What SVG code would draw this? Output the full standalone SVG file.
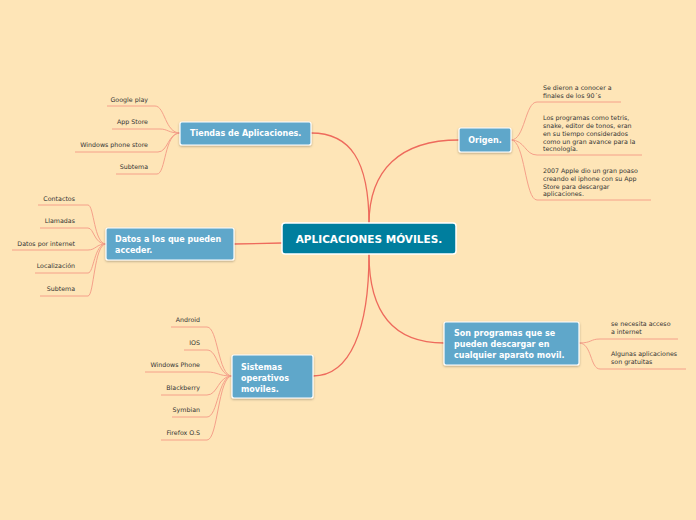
<svg xmlns="http://www.w3.org/2000/svg" width="696" height="520" viewBox="0 0 696 520">
<style>
.bg{fill:#FEE5B7}
.main{fill:none;stroke:#EE6A5C;stroke-width:1.3}
.leaf{fill:none;stroke:#F5A08A;stroke-width:1}
.box{fill:#5FA7CA;stroke:#fff;stroke-width:1.2}
.cbox{fill:#007E9E;stroke:#fff;stroke-width:1.5}
.bt{font-family:"DejaVu Sans",Verdana,sans-serif;font-weight:bold;font-size:8px;fill:#fff}
.ct{font-family:"DejaVu Sans",Verdana,sans-serif;font-weight:bold;font-size:10.5px;fill:#fff}
.lt{font-family:"DejaVu Sans",Verdana,sans-serif;font-size:6.3px;fill:#333}
.r{text-anchor:end}
</style>
<defs>
<filter id="sh" x="-10%" y="-10%" width="120%" height="140%"><feDropShadow dx="0" dy="1" stdDeviation="0.8" flood-color="#000" flood-opacity="0.3"/></filter>
</defs>
<rect class="bg" width="696" height="520"/>
<g id="connectors">
<path class="main" d="M369,224 C369,160 350,133 311,133"/>
<path class="main" d="M369,224 C369,170 400,140 459,140"/>
<path class="main" d="M282,243 L234,244"/>
<path class="main" d="M369,254 C369,330 350,376 313,376"/>
<path class="main" d="M369,254 C369,320 400,343 444,343"/>
<path class="leaf" d="M180,133 C165,133 165,106 155,106 L107,106"/>
<path class="leaf" d="M180,133 C168,133 168,129 160,129 L112,129"/>
<path class="leaf" d="M180,133 C168,133 168,152 158,152 L75,152"/>
<path class="leaf" d="M180,133 C164,133 166,174 157,174 L116,174"/>
<path class="leaf" d="M106,244 C94,244 94,205 88,205 L38,205"/>
<path class="leaf" d="M106,244 C94,244 94,228 88,228 L40,228"/>
<path class="leaf" d="M106,244 C96,244 96,250 88,250 L12,250"/>
<path class="leaf" d="M106,244 C94,244 94,273 88,273 L35,273"/>
<path class="leaf" d="M106,244 C94,244 94,296 88,296 L40,296"/>
<path class="leaf" d="M232,376 C218,376 218,327 207,327 L171,327"/>
<path class="leaf" d="M232,376 C218,376 218,350 207,350 L184,350"/>
<path class="leaf" d="M232,376 C218,376 218,372 207,372 L145,372"/>
<path class="leaf" d="M232,376 C218,376 218,395 207,395 L161,395"/>
<path class="leaf" d="M232,376 C218,376 218,417 207,417 L172,417"/>
<path class="leaf" d="M232,376 C218,376 218,440 207,440 L161,440"/>
<path class="leaf" d="M511,140 C525,140 525,102 537,102 L621,102"/>
<path class="leaf" d="M511,140 C525,140 525,155 537,155 L642,155"/>
<path class="leaf" d="M511,140 C525,140 525,200 537,200 L651,200"/>
<path class="leaf" d="M579,343 C592,343 590,339 600,339 L678,339"/>
<path class="leaf" d="M579,343 C592,343 590,369 600,369 L686,369"/>
</g>
<g id="central">
<rect class="cbox" x="282" y="223" width="174" height="31" rx="3"/>
<text class="ct" x="369" y="243" text-anchor="middle">APLICACIONES MÓVILES.</text>
</g>
<g id="tiendas">
<rect class="box" x="180" y="122" width="131" height="23" rx="2" filter="url(#sh)"/>
<text class="bt" x="190" y="136">Tiendas de Aplicaciones.</text>
</g>
<g id="datos">
<rect class="box" x="106" y="228" width="128" height="32" rx="2" filter="url(#sh)"/>
<text class="bt" x="115" y="242">Datos a los que pueden</text>
<text class="bt" x="115" y="253">acceder.</text>
</g>
<g id="sistemas">
<rect class="box" x="232" y="355" width="81" height="43" rx="2" filter="url(#sh)"/>
<text class="bt" x="241" y="370">Sistemas</text>
<text class="bt" x="241" y="381">operativos</text>
<text class="bt" x="241" y="392">moviles.</text>
</g>
<g id="origen">
<rect class="box" x="459" y="128" width="52" height="24" rx="2" filter="url(#sh)"/>
<text class="bt" x="485" y="143" text-anchor="middle">Origen.</text>
</g>
<g id="son-programas">
<rect class="box" x="444" y="322" width="135" height="43" rx="2" filter="url(#sh)"/>
<text class="bt" x="454" y="336">Son programas que se</text>
<text class="bt" x="454" y="347">pueden descargar en</text>
<text class="bt" x="454" y="358">cualquier aparato movil.</text>
</g>
<g id="tiendas-leaves">
<text class="lt r" x="148" y="102">Google play</text>
<text class="lt r" x="148" y="124">App Store</text>
<text class="lt r" x="148" y="147">Windows phone store</text>
<text class="lt r" x="148" y="169">Subtema</text>
</g>
<g id="datos-leaves">
<text class="lt r" x="75" y="201">Contactos</text>
<text class="lt r" x="75" y="223">Llamadas</text>
<text class="lt r" x="75" y="246">Datos por internet</text>
<text class="lt r" x="75" y="268">Localización</text>
<text class="lt r" x="75" y="291">Subtema</text>
</g>
<g id="sistemas-leaves">
<text class="lt r" x="200" y="322">Android</text>
<text class="lt r" x="200" y="345">IOS</text>
<text class="lt r" x="200" y="367">Windows Phone</text>
<text class="lt r" x="200" y="390">Blackberry</text>
<text class="lt r" x="200" y="412">Symbian</text>
<text class="lt r" x="200" y="435">Firefox O.S</text>
</g>
<g id="origen-leaves">
<text class="lt" x="543" y="90">Se dieron a conocer a</text>
<text class="lt" x="543" y="98">finales de los 90´s</text>
<text class="lt" x="543" y="120">Los programas como tetris,</text>
<text class="lt" x="543" y="128">snake, editor de tonos, eran</text>
<text class="lt" x="543" y="136">en su tiempo considerados</text>
<text class="lt" x="543" y="144">como un gran avance para la</text>
<text class="lt" x="543" y="151">tecnología.</text>
<text class="lt" x="543" y="173">2007 Apple dio un gran poaso</text>
<text class="lt" x="543" y="181">creando el iphone con su App</text>
<text class="lt" x="543" y="189">Store para descargar</text>
<text class="lt" x="543" y="196">aplicaciones.</text>
</g>
<g id="son-leaves">
<text class="lt" x="611" y="326">se necesita acceso</text>
<text class="lt" x="611" y="334">a internet</text>
<text class="lt" x="611" y="356">Algunas aplicaciones</text>
<text class="lt" x="611" y="364">son gratuitas</text>
</g>
</svg>
